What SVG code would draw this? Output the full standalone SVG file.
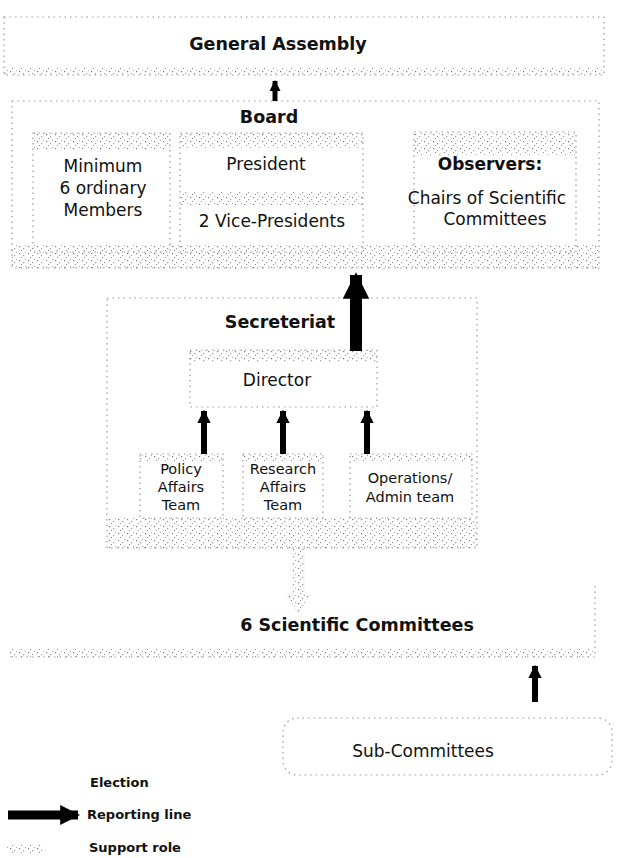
<svg xmlns="http://www.w3.org/2000/svg" width="619" height="858" viewBox="0 0 619 858">
<defs>
<pattern id="stip" width="9" height="7" patternUnits="userSpaceOnUse">
<rect x="1" y="1" width="1.2" height="1.2" fill="#777"/>
<rect x="5" y="3" width="1.2" height="1.2" fill="#999"/>
<rect x="3" y="5" width="1" height="1" fill="#888"/>
<rect x="7" y="0" width="1" height="1" fill="#aaa"/>
</pattern>
<marker id="ah" viewBox="0 0 10 10" refX="9" refY="5" markerWidth="2.2" markerHeight="2.2" orient="auto"><path d="M0,0 L10,5 L0,10 z" fill="#000"/></marker>
</defs>
<style>
.box{fill:none;stroke:#999;stroke-width:1.2;stroke-dasharray:1.5 4}
.band{fill:url(#stip)}
.t{font-family:"DejaVu Sans","Liberation Sans",sans-serif;font-size:17px;fill:#111;text-anchor:middle}
.s{font-size:14.5px}
.h{font-family:"DejaVu Sans","Liberation Sans",sans-serif;font-size:17.5px;font-weight:bold;fill:#111;text-anchor:middle}
.lg{font-family:"DejaVu Sans","Liberation Sans",sans-serif;font-size:13px;font-weight:bold;fill:#111}
.rep{stroke:#000;fill:none}
</style>
<rect width="619" height="858" fill="#fff"/>

<g id="general-assembly">
<rect class="box" x="4" y="17" width="600" height="58"/>
<rect class="band" x="4" y="67" width="600" height="8"/>
<text class="h" x="278" y="50">General Assembly</text>
</g>

<g id="board">
<rect class="box" x="12" y="101" width="587" height="167"/>
<rect class="band" x="12" y="245" width="587" height="23"/>
<text class="h" x="269" y="123">Board</text>
</g>
<g id="members">
<rect class="box" x="33" y="133" width="137" height="119"/>
<rect class="band" x="33" y="133" width="137" height="17"/>
<text class="t" x="103" y="172">Minimum</text>
<text class="t" x="103" y="194">6 ordinary</text>
<text class="t" x="103" y="216">Members</text>
</g>
<g id="president">
<rect class="box" x="180" y="133" width="183" height="119"/>
<rect class="band" x="180" y="133" width="183" height="15"/>
<rect class="band" x="180" y="192" width="183" height="13"/>
<text class="t" x="266" y="170">President</text>
<text class="t" x="272" y="227">2 Vice-Presidents</text>
</g>
<g id="observers">
<rect class="box" x="414" y="132" width="162" height="120"/>
<rect class="band" x="414" y="132" width="162" height="23"/>
<text class="t" x="490" y="170" font-weight="bold">Observers:</text>
<text class="t" x="487" y="204" font-size="16">Chairs of Scientific</text>
<text class="t" x="495" y="225" font-size="16">Committees</text>
</g>

<g id="secretariat">
<rect class="box" x="107" y="298" width="370" height="250"/>
<rect class="band" x="107" y="518" width="370" height="30"/>
<text class="h" x="280" y="328" font-size="17">Secreteriat</text>
</g>
<g id="director">
<rect class="box" x="190" y="350" width="187" height="57"/>
<rect class="band" x="190" y="350" width="187" height="12"/>
<text class="t" x="277" y="386" font-size="18">Director</text>
</g>
<g id="policy">
<rect class="box" x="140" y="454" width="83" height="64"/>
<rect class="band" x="140" y="454" width="83" height="8"/>
<text class="t s" x="181" y="474">Policy</text>
<text class="t s" x="181" y="492">Affairs</text>
<text class="t s" x="181" y="510">Team</text>
</g>
<g id="research">
<rect class="box" x="243" y="454" width="80" height="64"/>
<rect class="band" x="243" y="454" width="80" height="8"/>
<text class="t s" x="283" y="474">Research</text>
<text class="t s" x="283" y="492">Affairs</text>
<text class="t s" x="283" y="510">Team</text>
</g>
<g id="operations">
<rect class="box" x="350" y="454" width="122" height="64"/>
<rect class="band" x="350" y="454" width="122" height="8"/>
<text class="t s" x="410" y="483">Operations/</text>
<text class="t s" x="410" y="502">Admin team</text>
</g>

<g id="scientific-committees">
<path class="box" d="M10,657 L595,657 L595,585"/>
<rect class="band" x="10" y="649" width="585" height="8"/>
<text class="h" x="357" y="631">6 Scientific Committees</text>
</g>
<g id="sub-committees">
<rect class="box" x="283" y="718" width="329" height="57" rx="14"/>
<text class="t" x="423" y="757" font-size="15.5">Sub-Committees</text>
</g>

<g id="connectors">
<path class="rep" d="M275,101 L275,81" stroke-width="5" marker-end="url(#ah)"/>
<path class="rep" d="M356,351 L356,275" stroke-width="12" marker-end="url(#ah)"/>
<path class="rep" d="M204,454 L204,411" stroke-width="6" marker-end="url(#ah)"/>
<path class="rep" d="M283,454 L283,411" stroke-width="6" marker-end="url(#ah)"/>
<path class="rep" d="M367,454 L367,411" stroke-width="6" marker-end="url(#ah)"/>
<path class="rep" d="M535,702 L535,666" stroke-width="6" marker-end="url(#ah)"/>
<path d="M293,548 L304,548 L304,595 L310,595 L298.5,613 L287,595 L293,595 Z" fill="url(#stip)" stroke="#bbb" stroke-width="0.6" stroke-dasharray="1 2"/>
</g>

<g id="legend">
<text class="lg" x="90" y="787">Election</text>
<path class="rep" d="M8,815 L78,815" stroke-width="9" marker-end="url(#ah)"/>
<text class="lg" x="87" y="819">Reporting line</text>
<rect class="band" x="7" y="844" width="36" height="9"/>
<text class="lg" x="89" y="852">Support role</text>
</g>
</svg>
